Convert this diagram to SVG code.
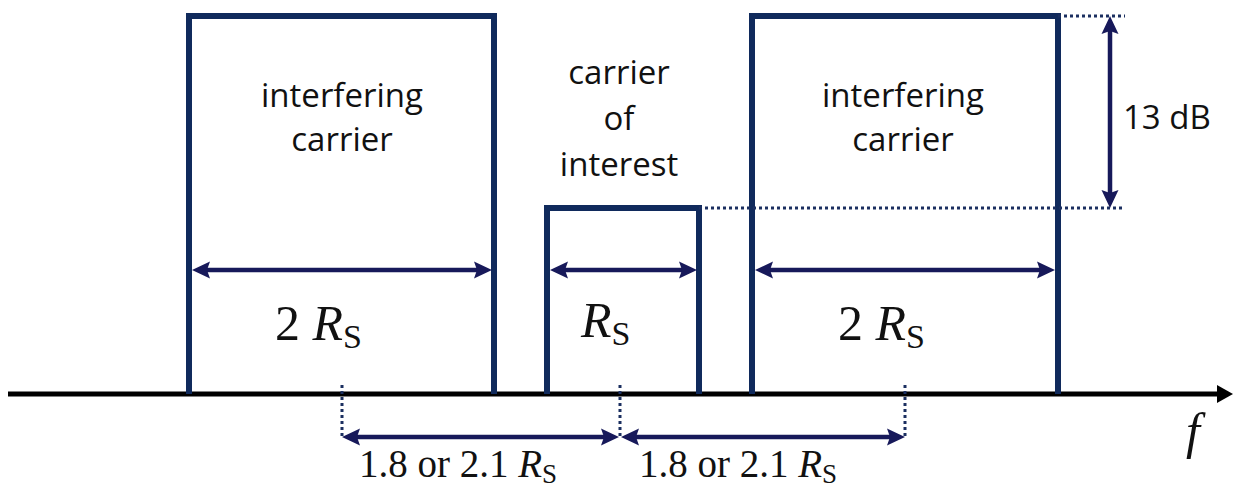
<svg xmlns="http://www.w3.org/2000/svg" width="1234" height="490" viewBox="0 0 1234 490">
  <style>
    .box { fill: none; stroke: #102a5c; stroke-width: 6; stroke-linejoin: miter; }
    .dim { fill: none; stroke: #17195a; stroke-width: 4.5; marker-start: url(#ah); marker-end: url(#ah); }
    .dot { fill: none; stroke: #1b2f60; stroke-width: 3; stroke-dasharray: 3 3; }
    .lbl { font-family: "Open Sans", "Liberation Sans", sans-serif; font-size: 33px; fill: #111; text-anchor: middle; }
    .math { font-family: "Liberation Serif", "DejaVu Serif", serif; fill: #111; }
  </style>
  <defs>
    <marker id="ah" viewBox="0 0 18 18" refX="9" refY="9" markerWidth="18" markerHeight="18" markerUnits="userSpaceOnUse" orient="auto-start-reverse">
      <path d="M0,0.5 L18,9 L0,17.5 L3,9 z" fill="#17195a"/>
    </marker>
  </defs>
  <rect width="1234" height="490" fill="#fff"/>

  <!-- frequency axis -->
  <g id="axis">
    <line x1="8" y1="394" x2="1220" y2="394" stroke="#000" stroke-width="5"/>
    <polygon points="1217,385 1233,394 1217,403" fill="#000"/>
    <text class="math" x="1186" y="448" font-size="50" font-style="italic">f</text>
  </g>

  <!-- left interfering carrier -->
  <g id="left-carrier">
    <path class="box" d="M189,394 V16 H494 V394"/>
    <text class="lbl" x="342" y="107">interfering</text>
    <text class="lbl" x="342" y="151">carrier</text>
    <text class="math" x="275" y="340" font-size="50">2 <tspan font-style="italic">R</tspan><tspan font-size="34" dy="8">S</tspan></text>
  </g>

  <!-- carrier of interest -->
  <g id="wanted-carrier">
    <path class="box" d="M547,394 V208 H699 V394"/>
    <text class="lbl" x="619" y="84">carrier</text>
    <text class="lbl" x="619" y="130">of</text>
    <text class="lbl" x="619" y="176">interest</text>
    <text class="math" x="581" y="337" font-size="50"><tspan font-style="italic">R</tspan><tspan font-size="34" dy="8">S</tspan></text>
  </g>

  <!-- right interfering carrier -->
  <g id="right-carrier">
    <path class="box" d="M752,394 V16 H1058 V394"/>
    <text class="lbl" x="903" y="107">interfering</text>
    <text class="lbl" x="903" y="151">carrier</text>
    <text class="math" x="838" y="340" font-size="50">2 <tspan font-style="italic">R</tspan><tspan font-size="34" dy="8">S</tspan></text>
  </g>

  <!-- level difference -->
  <g id="level">
    <text class="lbl" x="1123" y="129" style="text-anchor:start">13 dB</text>
  </g>

  <!-- dimension lines and guides -->
  <g id="connectors">
    <line class="dot" x1="1058" y1="16" x2="1125" y2="16"/>
    <line class="dot" x1="699" y1="208" x2="1125" y2="208"/>
    <line class="dim" x1="1110" y1="25" x2="1110" y2="199"/>

    <line class="dim" x1="201" y1="270" x2="483" y2="270"/>
    <line class="dim" x1="559" y1="270" x2="688" y2="270"/>
    <line class="dim" x1="764" y1="270" x2="1046" y2="270"/>

    <line class="dot" x1="342" y1="385" x2="342" y2="437"/>
    <line class="dot" x1="620" y1="385" x2="620" y2="437"/>
    <line class="dot" x1="905" y1="385" x2="905" y2="437"/>
    <line class="dim" x1="351" y1="437" x2="610" y2="437"/>
    <line class="dim" x1="630" y1="437" x2="896" y2="437"/>
  </g>

  <!-- spacing labels -->
  <g id="spacing-labels">
    <text class="math" x="359" y="477" font-size="39">1.8 or 2.1 <tspan font-style="italic">R</tspan><tspan font-size="27" dy="6">S</tspan></text>
    <text class="math" x="639" y="477" font-size="39">1.8 or 2.1 <tspan font-style="italic">R</tspan><tspan font-size="27" dy="6">S</tspan></text>
  </g>
</svg>
